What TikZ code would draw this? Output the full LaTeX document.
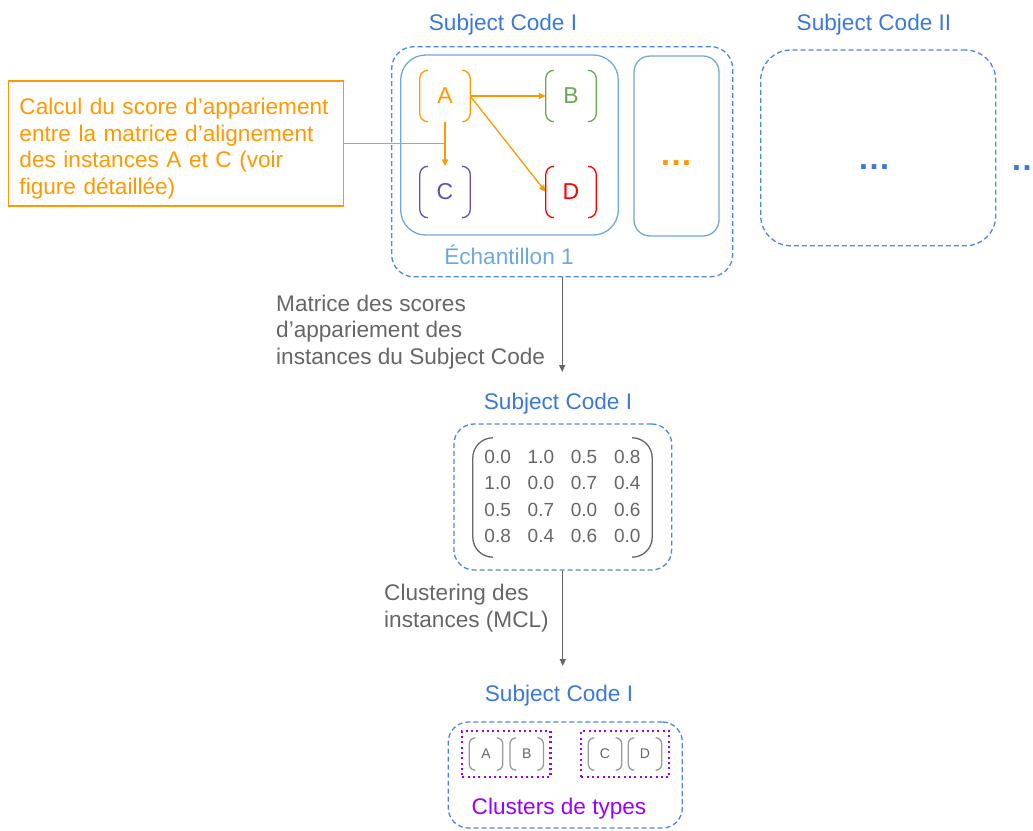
\documentclass[tikz,border=0pt]{standalone}
\usepackage{fontspec}
\setmainfont{Liberation Sans}
\usetikzlibrary{arrows.meta,fit}

\definecolor{scblue}{HTML}{3C78D8}
\definecolor{dashblue}{HTML}{4A86E8}
\definecolor{smpblue}{HTML}{6FA8DC}
\definecolor{calcorange}{HTML}{FF9900}
\definecolor{bgreen}{HTML}{6AA84F}
\definecolor{cpurple}{HTML}{674EA7}
\definecolor{dred}{HTML}{FF0000}
\definecolor{txtgray}{HTML}{666666}
\definecolor{brkgray}{HTML}{999999}
\definecolor{clupurple}{HTML}{9900FF}

\tikzset{
  every node/.style={font=\fontsize{22.6}{26.5}\selectfont},
  sctitle/.style={text=scblue},
  dbox/.style={draw=dashblue, line width=1.3pt, dash pattern=on 5pt off 3pt, rounded corners=#1, inner sep=0pt},
  dbox/.default=20,
  sbox/.style={draw=smpblue, line width=1.3pt, rounded corners=#1, inner sep=0pt},
  sbox/.default=25,
  bnode/.style={minimum width=50pt, minimum height=51pt, inner sep=0pt, font=\fontsize{23}{26}\selectfont},
  cnode/.style={minimum width=33pt, minimum height=32pt, inner sep=0pt, text=txtgray, font=\fontsize{14}{16}\selectfont},
  clubox/.style={draw=clupurple, line width=2.2pt, dash pattern=on 2pt off 3.3pt, inner sep=7pt},
  calcbox/.style={draw=calcorange, text=calcorange, line width=1.3pt, minimum width=335pt, minimum height=125pt, text width=313pt, align=left, inner sep=0pt},
  gtext/.style={text=txtgray, align=left, inner sep=0pt},
  oarrow/.style={draw=calcorange, line width=1.3pt, -{Triangle[length=7pt,width=6pt]}},
  garrow/.style={draw=txtgray, line width=1.3pt, -{Triangle[length=7pt,width=6pt]}},
}

\begin{document}
\begin{tikzpicture}[x=1pt, y=-1pt]
  \useasboundingbox (0,0) rectangle (1033,830);

  % first subject code
  \node[sctitle] (t1) at (503, 25) {Subject Code I};
  \node[dbox=22, minimum width=341pt, minimum height=230pt] (sc1) at (562.2, 161.7) {};
  \node[sbox=25, minimum width=217.6pt, minimum height=180pt] (s1) at (509.5, 145) {};
  \node[sbox=16, minimum width=85pt, minimum height=180pt] (s2) at (676.5, 146) {};
  \node[text=calcorange, font=\fontsize{33}{36}\bfseries] (more1) at (676, 163) {…};
  \node[text=smpblue] (ech) at (509, 255) {Échantillon 1};

  \node[bnode, text=calcorange] (A) at (445, 96) {A};
  \node[bnode, text=bgreen] (B) at (571, 96) {B};
  \node[bnode, text=cpurple] (C) at (445, 192) {C};
  \node[bnode, text=dred] (D) at (571, 192) {D};

  \draw[oarrow] (A) -- (B);
  \draw[oarrow] (A.east) -- (D.west);
  \draw[oarrow] (A) -- (C);

  \node[calcbox] (calc) at (176, 143.5) {\rule{0pt}{27pt}Calcul du score d’appariement\\entre la matrice d’alignement\\des instances A et C (voir\\figure détaillée)};
  \draw[draw=calcorange, line width=1.3pt] (calc.east) -- (calc.east -| A);

  % second subject code
  \node[sctitle] (t2) at (874, 25) {Subject Code II};
  \node[dbox=30, minimum width=235pt, minimum height=195.7pt] (sc2) at (878.2, 147.9) {};
  \node[text=scblue, font=\fontsize{33}{36}\bfseries] (more2) at (874, 167) {…};
  \node[text=scblue, font=\fontsize{33}{36}\bfseries] (more3) at (1027, 168) {…};

  % matrix of scores
  \coordinate (e1) at (563, 372);
  \draw[garrow] (sc1.south) -- (sc1.south |- e1);
  \node[gtext, anchor=west] (lbl1) at (276, 332) {Matrice des scores\\d’appariement des\\instances du Subject Code};

  \node[sctitle] (t3) at (558, 404) {Subject Code I};
  \node[dbox=20, minimum width=217.7pt, minimum height=146pt] (mbox) at (562.8, 497) {};
  \node[text=txtgray, minimum width=179pt, minimum height=119pt, inner sep=0pt, font=\fontsize{19}{26.5}\selectfont] (mat) at (562.5, 497.5)
    {\begin{tabular}{@{}l@{\hspace{16.8pt}}l@{\hspace{16.8pt}}l@{\hspace{16.8pt}}l@{}}
      0.0 & 1.0 & 0.5 & 0.8\\
      1.0 & 0.0 & 0.7 & 0.4\\
      0.5 & 0.7 & 0.0 & 0.6\\
      0.8 & 0.4 & 0.6 & 0.0
    \end{tabular}};

  % clusters
  \coordinate (e2) at (563, 666);
  \draw[garrow] (mbox.south) -- (mbox.south |- e2);
  \node[gtext, anchor=west] (lbl2) at (384, 608) {Clustering des\\instances (MCL)};

  \node[sctitle] (t4) at (559, 696) {Subject Code I};
  \node[dbox=20, minimum width=234pt, minimum height=106pt] (cbox) at (565.3, 775) {};
  \node[cnode] (cA) at (486, 754) {A};
  \node[cnode] (cB) at (526.7, 754) {B};
  \node[cnode] (cC) at (605, 754) {C};
  \node[cnode] (cD) at (645, 754) {D};
  \node[clubox, fit=(cA)(cB)] (kAB) {};
  \node[clubox, fit=(cC)(cD)] (kCD) {};
  \node[text=clupurple] (clu) at (559, 809) {Clusters de types};

  % brackets round the instances and the matrix
  \foreach \n/\c/\r in {A/calcorange/8, B/bgreen/8, C/cpurple/8, D/dred/8, cA/brkgray/6, cB/brkgray/6, cC/brkgray/6, cD/brkgray/6, mat/txtgray/20}
    \draw[\c, line width=1.3pt, rounded corners=\r]
      ([xshift=\r]\n.north west) -- (\n.north west) -- (\n.south west) -- ([xshift=\r]\n.south west)
      ([xshift=-\r]\n.north east) -- (\n.north east) -- (\n.south east) -- ([xshift=-\r]\n.south east);
\end{tikzpicture}
\end{document}
